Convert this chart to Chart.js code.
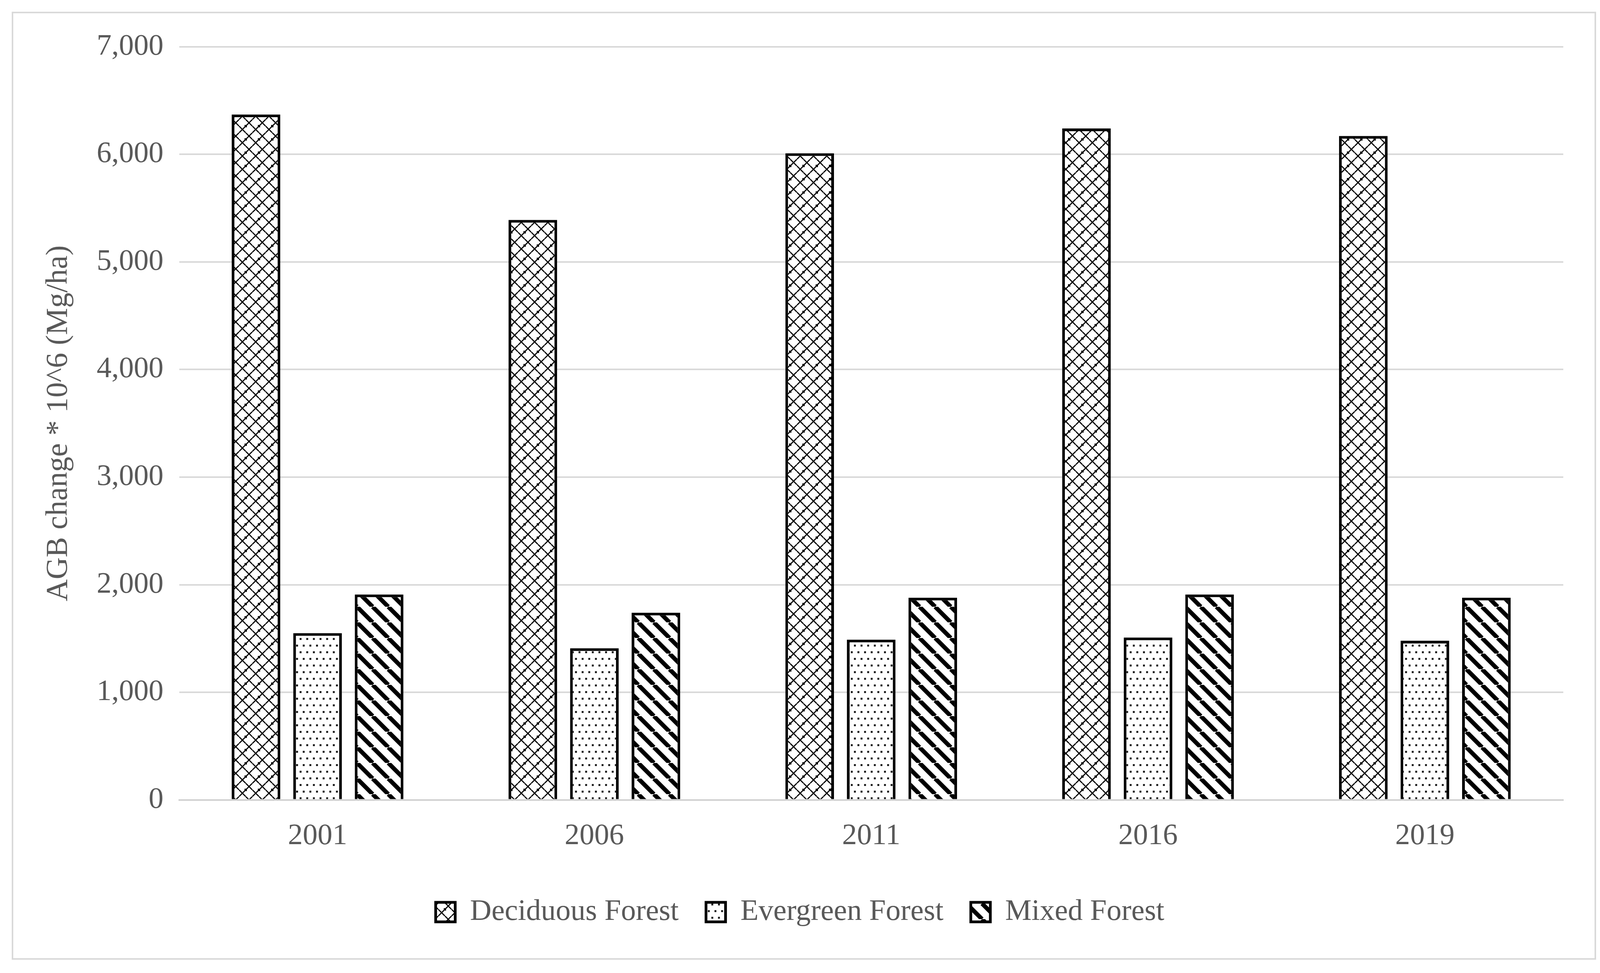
<!DOCTYPE html>
<html>
<head>
<meta charset="utf-8">
<script src="https://cdn.jsdelivr.net/npm/chart.js@4.4.1/dist/chart.umd.min.js"></script>
<style>
  html,body{margin:0;padding:0;background:#fff;}
  #wrap{position:absolute;left:30px;top:30px;width:4056px;height:2428px;border:4px solid #d9d9d9;box-sizing:border-box;}
  canvas{display:block;}
</style>
</head>
<body>
<div id="wrap"><canvas id="chart" width="4048" height="2420"></canvas></div>
<script>
// data
const years = ["2001","2006","2011","2016","2019"];
const deciduous = [6370, 5390, 6010, 6240, 6170];
const evergreen = [1550, 1410, 1490, 1510, 1480];
const mixed = [1910, 1740, 1880, 1910, 1880];
const seriesNames = ["Deciduous Forest","Evergreen Forest","Mixed Forest"];

// patterns
function tile(size, draw){
  const c=document.createElement("canvas"); c.width=c.height=size;
  const g=c.getContext("2d"); g.fillStyle="#fff"; g.fillRect(0,0,size,size);
  draw(g,size);
  return document.createElement("canvas").getContext("2d").createPattern(c,"repeat");
}
const weave = tile(34,(g,s)=>{
  g.strokeStyle="#000"; g.lineWidth=3;
  for(let o=-s;o<=s;o+=s){ g.beginPath(); g.moveTo(o,s); g.lineTo(o+s,0); g.stroke(); }
  g.beginPath(); g.moveTo(0,s/2); g.lineTo(s/2,s); g.stroke();
  g.beginPath(); g.moveTo(s/2,0); g.lineTo(s,s/2); g.stroke();
  g.fillStyle="#000"; g.fillRect(s/2-3,s/2-3,6,6);
});
const dots = tile(34,(g,s)=>{
  g.fillStyle="#222";
  g.fillRect(2,2,5,5); g.fillRect(19,2,5,5);
  g.fillRect(10,19,5,5); g.fillRect(27,19,5,5);
});
const stripes = tile(40,(g,s)=>{
  g.strokeStyle="#000"; g.lineWidth=11;
  for(let o=-s;o<=s;o+=s){ g.beginPath(); g.moveTo(o,0); g.lineTo(o+s,s); g.stroke(); }
});

const font = "'Liberation Serif', 'DejaVu Serif', serif";
const grey = "#595959";

new Chart(document.getElementById("chart"),{
  type:"bar",
  data:{
    labels:years,
    datasets:[
      {label:seriesNames[0],data:deciduous,backgroundColor:weave},
      {label:seriesNames[1],data:evergreen,backgroundColor:dots},
      {label:seriesNames[2],data:mixed,backgroundColor:stripes}
    ].map(d=>Object.assign(d,{borderColor:"#000",borderWidth:7,barPercentage:0.79,categoryPercentage:0.667}))
  },
  options:{
    responsive:false,
    animation:false,
    devicePixelRatio:1,
    layout:{padding:{left:60,right:80,top:40,bottom:70}},
    plugins:{
      legend:{position:"bottom",labels:{color:grey,font:{family:font,size:76},boxWidth:50,boxHeight:50,padding:70}},
      tooltip:{enabled:false}
    },
    scales:{
      x:{
        grid:{display:false},
        border:{color:"#d0d0d0",width:4},
        ticks:{color:grey,font:{family:font,size:76},padding:40}
      },
      y:{
        min:0,max:7000,
        ticks:{stepSize:1000,color:grey,font:{family:font,size:76},padding:40,
          callback:v=>v.toLocaleString("en-US")},
        grid:{color:"#d9d9d9",lineWidth:4,drawTicks:false},
        border:{display:false},
        title:{display:true,text:"AGB change * 10^6 (Mg/ha)",color:grey,font:{family:font,size:78},padding:10}
      }
    }
  }
});
</script>
</body>
</html>
